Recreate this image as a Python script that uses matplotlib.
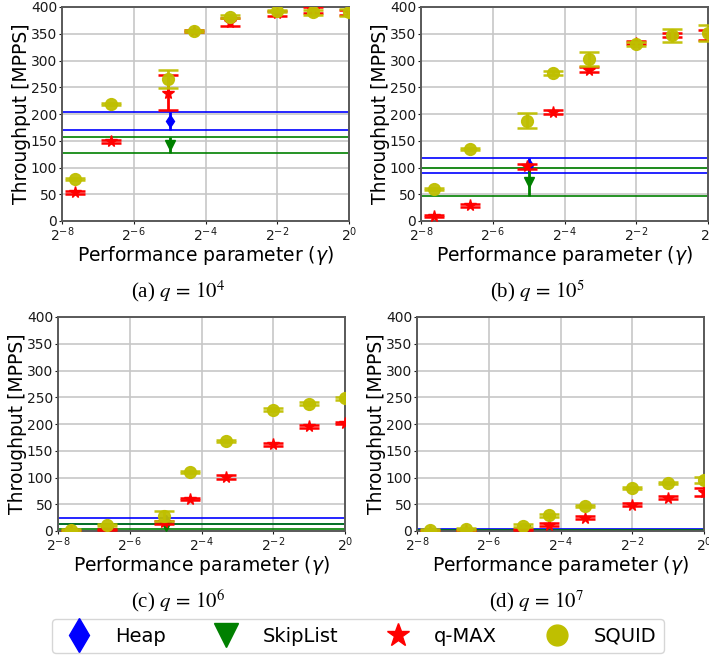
import numpy as np
import matplotlib
matplotlib.use("Agg")
import matplotlib.pyplot as plt
from matplotlib.lines import Line2D

# ---------- data ----------
gamma = [0.005, 0.01, 0.03, 0.05, 0.1, 0.25, 0.5, 1.0]
gamma_base = 2 ** -5   # Heap / SkipList point

panels = ["(a) $q\\,=\\,10^4$", "(b) $q\\,=\\,10^5$", "(c) $q\\,=\\,10^6$", "(d) $q\\,=\\,10^7$"]

squid = [
    [78, 218, 265, 355, 382, 393, 390, 390],
    [60, 134, 187, 277, 303, 331, 347, 352],
    [2, 12, 28, 110, 168, 227, 238, 248],
    [2, 4.5, 10, 29, 47, 80, 90, 95],
]
squid_err = [
    [2, 2, 17, 2, 3, 2, 5, 6],
    [2, 2, 14, 4, 13, 3, 12, 15],
    [2, 2, 9, 2, 2, 2, 3, 3],
    [2, 2, 3, 2, 2, 2, 2, 6],
]
qmax = [
    [54, 149, 240, 355, 372, 388, 394, 390],
    [9, 29, 102, 204, 283, 333, 347, 348],
    [1, 3, 16, 60, 101, 162, 196, 202],
    [0.5, 1, 3, 12, 25, 49, 62, 73],
]
qmax_err = [
    [3, 3, 32, 2, 8, 4, 6, 5],
    [2, 2, 5, 4, 4, 3, 4, 9],
    [1, 1, 3, 2, 3, 3, 3, 2],
    [1, 1, 1, 3, 3, 3, 3, 8],
]
heap = [187, 104, 19, 3]
heap_std = [17.5, 14, 6, 1]
skip = [142, 73, 9, 1.5]
skip_std = [15, 26.5, 5, 0.7]

# ---------- figure ----------
fig = plt.figure(figsize=(7.09, 6.6), dpi=100)
W, H = 709, 660
boxes = [(62, 7), (421, 7), (58, 317), (417, 317)]   # left, top in px
caps_x = [178, 537, 178, 537]
aw, ah = 287, 214

for i, (lx, ty) in enumerate(boxes):
    ax = fig.add_axes([lx / W, 1 - (ty + ah) / H, aw / W, ah / H])
    ax.set_xscale("log", base=2)
    ax.set_xlim(2 ** -8, 1)
    ax.set_ylim(0, 400)
    ax.set_xticks([2 ** -8, 2 ** -6, 2 ** -4, 2 ** -2, 1])
    ax.set_yticks(range(0, 401, 50))
    ax.minorticks_off()
    ax.grid(True, color="0.78", linewidth=1.2)
    ax.set_axisbelow(True)
    for s in ax.spines.values():
        s.set_color("0.35")
        s.set_linewidth(1.4)
    ax.tick_params(labelsize=10, colors="0.1", length=2, pad=1.5)

    # baselines
    for y in (heap[i] + heap_std[i], heap[i] - heap_std[i]):
        ax.axhline(y, color="blue", linewidth=1.2, zorder=2)
    for y in (skip[i] + skip_std[i], skip[i] - skip_std[i]):
        ax.axhline(y, color="green", linewidth=1.2, zorder=2)

    ax.errorbar([gamma_base], [heap[i]], yerr=[heap_std[i]], fmt="d", color="blue",
                markersize=6.5, elinewidth=2, zorder=4)
    ax.errorbar([gamma_base], [skip[i]], yerr=[skip_std[i]], fmt="v", color="green",
                markersize=7, elinewidth=2, zorder=4)
    ax.errorbar(gamma, qmax[i], yerr=qmax_err[i], fmt="*", color="red",
                markersize=8.5, elinewidth=2, capsize=7, capthick=1.8, zorder=5)
    ax.errorbar(gamma, squid[i], yerr=squid_err[i], fmt="o", color="y",
                markersize=8.5, elinewidth=2, capsize=7.5, capthick=1.8, zorder=6,
                alpha=0.95)

    ax.set_ylabel("Throughput [MPPS]", fontsize=13.5, labelpad=0)
    ax.set_xlabel(r"Performance parameter ($\gamma$)", fontsize=13.5, labelpad=0)

    fig.text(caps_x[i] / W, 1 - (ty + 284) / H, panels[i], ha="center", va="center",
             fontsize=15, family="Liberation Serif", math_fontfamily="stix")

# ---------- legend ----------
handles = [
    Line2D([], [], linestyle="none", marker="d", color="blue", markersize=17),
    Line2D([], [], linestyle="none", marker="v", color="green", markersize=17),
    Line2D([], [], linestyle="none", marker="*", color="red", markersize=17),
    Line2D([], [], linestyle="none", marker="o", color="y", markersize=15),
]
fig.legend(handles, ["Heap", "SkipList", "q-MAX", "SQUID"], loc="center",
           bbox_to_anchor=(358 / W, 1 - 636 / H), ncol=4, fontsize=14,
           handletextpad=0.85, columnspacing=2.1, borderpad=0.4,
           edgecolor="0.8", fancybox=True)

fig.savefig("out.png", dpi=100)
